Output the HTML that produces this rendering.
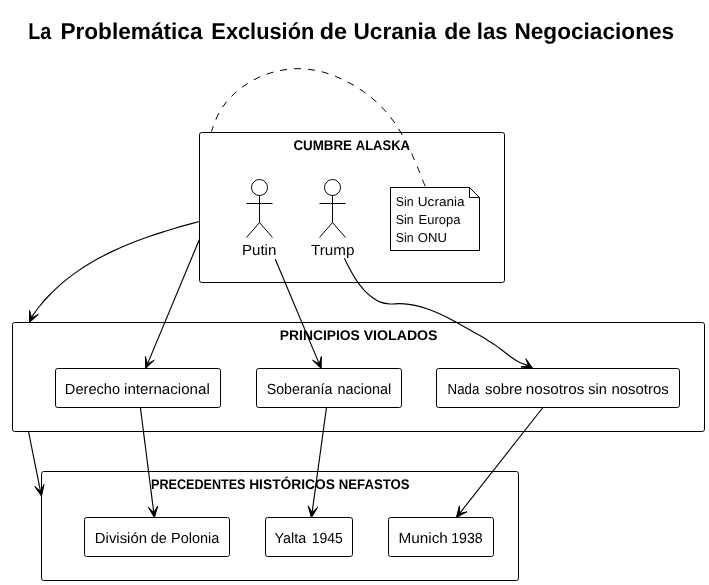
<!DOCTYPE html>
<html><head><meta charset="utf-8"><style>
html,body{margin:0;padding:0;background:#fff;width:709px;height:585px;overflow:hidden}
svg{display:block;will-change:transform}
text{font-family:"Liberation Sans",sans-serif;fill:#000;text-rendering:geometricPrecision}
</style></head><body>
<svg width="709" height="585" viewBox="0 0 709 585">
<g fill="#fff" stroke="#000" stroke-width="1">
<rect x="199.5" y="132.5" width="305.0" height="150.0" rx="2.2" ry="2.2"/>
<rect x="12.5" y="322.5" width="692.0" height="109.0" rx="2.2" ry="2.2"/>
<rect x="41.5" y="471.5" width="477.0" height="109.0" rx="2.2" ry="2.2"/>
<rect x="55.5" y="368.5" width="165.0" height="39.0" rx="2.2" ry="2.2"/>
<rect x="256.5" y="368.5" width="145.0" height="39.0" rx="2.2" ry="2.2"/>
<rect x="436.5" y="368.5" width="243.0" height="39.0" rx="2.2" ry="2.2"/>
<rect x="84.5" y="517.5" width="145.0" height="39.0" rx="2.2" ry="2.2"/>
<rect x="265.5" y="517.5" width="87.0" height="39.0" rx="2.2" ry="2.2"/>
<rect x="388.5" y="517.5" width="105.0" height="39.0" rx="2.2" ry="2.2"/>
<path d="M390.5,187.5 L469.5,187.5 L479.5,197.5 L479.5,250.5 L390.5,250.5 Z"/>
<path fill="none" d="M469.5,187.5 L469.5,197.5 L479.5,197.5 Z"/>
</g>
<g fill="none" stroke="#000" stroke-width="1">
<ellipse cx="259.5" cy="187.5" rx="8" ry="8" fill="#fff"/>
<path d="M259.5,195.5 L259.5,222.5 M246.5,203.5 L272.5,203.5 M259.5,222.5 L246.5,237.5 M259.5,222.5 L272.5,237.5"/>
<ellipse cx="332.5" cy="187.5" rx="8" ry="8" fill="#fff"/>
<path d="M332.5,195.5 L332.5,222.5 M319.5,203.5 L345.5,203.5 M332.5,222.5 L319.5,237.5 M332.5,222.5 L345.5,237.5"/>
<path d="M210.96,132.67 C212.48,129.05 216.08,117.52 220.03,110.95 C223.99,104.38 229.11,98.39 234.69,93.23 C240.27,88.06 246.79,83.56 253.54,79.96 C260.28,76.36 267.72,73.51 275.16,71.63 C282.59,69.75 290.49,68.70 298.15,68.69 C305.81,68.68 313.63,69.74 321.12,71.57 C328.60,73.39 336.03,76.33 343.05,79.64 C350.07,82.96 356.93,87.01 363.26,91.45 C369.58,95.89 375.61,100.87 380.99,106.31 C386.37,111.75 391.18,117.78 395.54,124.09 C399.90,130.40 403.62,137.25 407.16,144.14 C410.71,151.04 413.76,158.31 416.79,165.45 C419.83,172.58 423.95,183.37 425.39,186.96" stroke-dasharray="7,7"/>
<g stroke-width="1.15">
<path d="M199.38,221.52 C197.30,222.08 191.06,223.73 186.88,224.89 C182.70,226.05 178.50,227.24 174.30,228.48 C170.10,229.72 165.89,230.99 161.69,232.33 C157.50,233.67 153.30,235.05 149.13,236.50 C144.96,237.95 140.79,239.45 136.67,241.03 C132.54,242.61 128.43,244.26 124.37,245.98 C120.31,247.71 116.28,249.50 112.31,251.39 C108.34,253.28 104.40,255.24 100.54,257.31 C96.67,259.38 92.86,261.53 89.12,263.79 C85.39,266.05 81.71,268.40 78.12,270.87 C74.54,273.34 71.02,275.92 67.61,278.61 C64.19,281.31 60.86,284.12 57.63,287.06 C54.41,290.00 51.28,293.06 48.27,296.26 C45.26,299.46 42.35,302.79 39.57,306.26 C36.79,309.74 32.93,315.31 31.61,317.12"/>
<path d="M199.5,239.2 L147.52,363.88"/>
<path d="M275.3,259.3 L319.26,363.89"/>
<path d="M344.39,258.20 C345.09,259.63 347.14,263.92 348.63,266.77 C350.11,269.62 351.63,272.52 353.30,275.31 C354.96,278.09 356.70,280.86 358.61,283.46 C360.53,286.06 362.55,288.59 364.78,290.89 C367.01,293.19 369.39,295.40 372.00,297.27 C374.61,299.14 377.49,301.00 380.45,302.12 C383.40,303.23 386.60,303.70 389.75,303.96 C392.90,304.21 396.16,303.57 399.37,303.64 C402.57,303.70 405.80,303.93 408.97,304.35 C412.14,304.77 415.28,305.40 418.38,306.16 C421.48,306.92 424.53,307.87 427.56,308.92 C430.58,309.96 433.57,311.16 436.53,312.43 C439.49,313.70 442.42,315.10 445.32,316.54 C448.23,317.97 451.11,319.50 453.97,321.04 C456.84,322.59 459.68,324.19 462.51,325.78 C465.34,327.37 468.16,328.98 470.96,330.57 C473.77,332.16 476.57,333.71 479.34,335.31 C482.12,336.91 484.88,338.49 487.60,340.17 C490.32,341.85 493.01,343.56 495.65,345.39 C498.29,347.23 500.85,349.22 503.44,351.18 C506.03,353.14 508.53,355.30 511.18,357.16 C513.84,359.02 516.48,360.91 519.37,362.34 C522.25,363.76 526.98,365.14 528.50,365.70"/>
<path d="M28.5,431.5 L40.52,491.30"/>
<path d="M140.4,407.5 L153.77,512.54"/>
<path d="M326.5,407.5 L312.08,512.55"/>
<path d="M542.9,407.5 L459.49,513.57"/>
</g>
</g>
<g fill="#000" stroke="#000" stroke-width="1">
<polygon points="29.50,322.50 29.62,310.50 31.55,317.94 38.38,314.43"/>
<polygon points="145.60,368.50 145.40,356.50 147.52,363.88 154.26,360.19"/>
<polygon points="321.20,368.50 312.51,360.22 319.26,363.89 321.36,356.50"/>
<polygon points="532.80,368.50 520.90,366.94 528.52,365.92 525.85,358.71"/>
<polygon points="41.50,496.20 34.63,486.36 40.52,491.30 44.04,484.47"/>
<polygon points="154.40,517.50 148.25,507.19 153.77,512.54 157.77,505.98"/>
<polygon points="311.40,517.50 308.14,505.95 312.08,512.55 317.65,507.25"/>
<polygon points="456.40,517.50 459.43,505.89 459.49,513.57 466.97,511.82"/>
</g>
<g>
<text x="28.15" y="38.8" font-size="22.8" textLength="23.05" lengthAdjust="spacingAndGlyphs" font-weight="bold">La</text>
<text x="60.41" y="38.8" font-size="22.8" textLength="142.07" lengthAdjust="spacingAndGlyphs" font-weight="bold">Problemática</text>
<text x="211.37" y="38.8" font-size="22.8" textLength="102.88" lengthAdjust="spacingAndGlyphs" font-weight="bold">Exclusión</text>
<text x="319.77" y="38.8" font-size="22.8" textLength="27.28" lengthAdjust="spacingAndGlyphs" font-weight="bold">de</text>
<text x="353.48" y="38.8" font-size="22.8" textLength="82.97" lengthAdjust="spacingAndGlyphs" font-weight="bold">Ucrania</text>
<text x="444.15" y="38.8" font-size="22.8" textLength="26.83" lengthAdjust="spacingAndGlyphs" font-weight="bold">de</text>
<text x="476.76" y="38.8" font-size="22.8" textLength="30.9" lengthAdjust="spacingAndGlyphs" font-weight="bold">las</text>
<text x="514.42" y="38.8" font-size="22.8" textLength="159.77" lengthAdjust="spacingAndGlyphs" font-weight="bold">Negociaciones</text>
<text x="293.4" y="150" font-size="14" textLength="58.61" lengthAdjust="spacingAndGlyphs" font-weight="bold">CUMBRE</text>
<text x="355.75" y="150" font-size="14" textLength="54.18" lengthAdjust="spacingAndGlyphs" font-weight="bold">ALASKA</text>
<text x="279.83" y="339.8" font-size="14" textLength="80.01" lengthAdjust="spacingAndGlyphs" font-weight="bold">PRINCIPIOS</text>
<text x="363.66" y="339.8" font-size="14" textLength="73.89" lengthAdjust="spacingAndGlyphs" font-weight="bold">VIOLADOS</text>
<text x="151.0" y="488.8" font-size="14" textLength="94.48" lengthAdjust="spacingAndGlyphs" font-weight="bold">PRECEDENTES</text>
<text x="249.18" y="488.8" font-size="14" textLength="85.73" lengthAdjust="spacingAndGlyphs" font-weight="bold">HISTÓRICOS</text>
<text x="338.8" y="488.8" font-size="14" textLength="70.8" lengthAdjust="spacingAndGlyphs" font-weight="bold">NEFASTOS</text>
<text x="242.0" y="254.8" font-size="14" textLength="34.35" lengthAdjust="spacingAndGlyphs" transform="translate(0 254.8) scale(1 1.05) translate(0 -254.8)">Putin</text>
<text x="311.04" y="254.7" font-size="14" textLength="43.39" lengthAdjust="spacingAndGlyphs" transform="translate(0 254.7) scale(1 1.05) translate(0 -254.7)">Trump</text>
<text x="395.86" y="206" font-size="13" textLength="17.88" lengthAdjust="spacingAndGlyphs">Sin</text>
<text x="417.8" y="206" font-size="13" textLength="46.75" lengthAdjust="spacingAndGlyphs">Ucrania</text>
<text x="395.86" y="223.8" font-size="13" textLength="17.88" lengthAdjust="spacingAndGlyphs">Sin</text>
<text x="418.6" y="223.8" font-size="13" textLength="41.81" lengthAdjust="spacingAndGlyphs">Europa</text>
<text x="395.86" y="241.6" font-size="13" textLength="17.88" lengthAdjust="spacingAndGlyphs">Sin</text>
<text x="417.8" y="241.6" font-size="13" textLength="29.02" lengthAdjust="spacingAndGlyphs">ONU</text>
<text x="64.87" y="393.9" font-size="14" textLength="55.2" lengthAdjust="spacingAndGlyphs" transform="translate(0 393.9) scale(1 1.05) translate(0 -393.9)">Derecho</text>
<text x="124.02" y="393.9" font-size="14" textLength="85.78" lengthAdjust="spacingAndGlyphs" transform="translate(0 393.9) scale(1 1.05) translate(0 -393.9)">internacional</text>
<text x="266.74" y="393.9" font-size="14" textLength="65.55" lengthAdjust="spacingAndGlyphs" transform="translate(0 393.9) scale(1 1.05) translate(0 -393.9)">Soberanía</text>
<text x="337.4" y="393.9" font-size="14" textLength="53.8" lengthAdjust="spacingAndGlyphs" transform="translate(0 393.9) scale(1 1.05) translate(0 -393.9)">nacional</text>
<text x="447.6" y="393.9" font-size="14" textLength="31.69" lengthAdjust="spacingAndGlyphs" transform="translate(0 393.9) scale(1 1.05) translate(0 -393.9)">Nada</text>
<text x="485.06" y="393.9" font-size="14" textLength="37.32" lengthAdjust="spacingAndGlyphs" transform="translate(0 393.9) scale(1 1.05) translate(0 -393.9)">sobre</text>
<text x="525.72" y="393.9" font-size="14" textLength="58.63" lengthAdjust="spacingAndGlyphs" transform="translate(0 393.9) scale(1 1.05) translate(0 -393.9)">nosotros</text>
<text x="588.16" y="393.9" font-size="14" textLength="18.63" lengthAdjust="spacingAndGlyphs" transform="translate(0 393.9) scale(1 1.05) translate(0 -393.9)">sin</text>
<text x="611.4" y="393.9" font-size="14" textLength="57.34" lengthAdjust="spacingAndGlyphs" transform="translate(0 393.9) scale(1 1.05) translate(0 -393.9)">nosotros</text>
<text x="94.84" y="542.9" font-size="14" textLength="52.14" lengthAdjust="spacingAndGlyphs" transform="translate(0 542.9) scale(1 1.05) translate(0 -542.9)">División</text>
<text x="150.8" y="542.9" font-size="14" textLength="16.06" lengthAdjust="spacingAndGlyphs" transform="translate(0 542.9) scale(1 1.05) translate(0 -542.9)">de</text>
<text x="171.0" y="542.9" font-size="14" textLength="48.33" lengthAdjust="spacingAndGlyphs" transform="translate(0 542.9) scale(1 1.05) translate(0 -542.9)">Polonia</text>
<text x="274.58" y="542.7" font-size="14" textLength="31.69" lengthAdjust="spacingAndGlyphs" transform="translate(0 542.7) scale(1 1.05) translate(0 -542.7)">Yalta</text>
<text x="311.79" y="542.7" font-size="14" textLength="31.09" lengthAdjust="spacingAndGlyphs" transform="translate(0 542.7) scale(1 1.05) translate(0 -542.7)">1945</text>
<text x="398.49" y="542.8" font-size="14" textLength="49.39" lengthAdjust="spacingAndGlyphs" transform="translate(0 542.8) scale(1 1.05) translate(0 -542.8)">Munich</text>
<text x="451.23" y="542.8" font-size="14" textLength="31.52" lengthAdjust="spacingAndGlyphs" transform="translate(0 542.8) scale(1 1.05) translate(0 -542.8)">1938</text>
</g>
</svg>
</body></html>
